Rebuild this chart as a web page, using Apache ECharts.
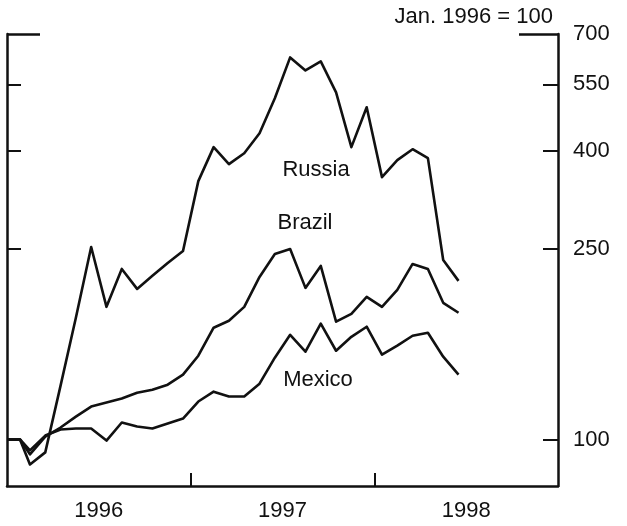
<!DOCTYPE html>
<html><head><meta charset="utf-8">
<script src="https://cdn.jsdelivr.net/npm/echarts@6/dist/echarts.min.js"></script>
<style>html,body{margin:0;padding:0;background:#fff}#c{width:627px;height:526px}</style>
</head><body><div id="c"></div>
<script>
// Months since Jan. 1996 (index level, Jan. 1996 = 100)
const months = [0, 0.85, 1.5, 2.5, 3.5, 4.5, 5.5, 6.5, 7.5, 8.5, 9.5, 10.5, 11.5, 12.5, 13.5, 14.5,
  15.5, 16.5, 17.5, 18.5, 19.5, 20.5, 21.5, 22.5, 23.5, 24.5, 25.5, 26.5, 27.5, 28.5, 29.5];
const russia = [100, 100, 88.7, 94.0, 129.5, 179.4, 251.9, 189.0, 226.7, 206.0, 219.3, 233.3, 247.1, 345.5, 406.7, 374.9,
  395.1, 434.7, 514.1, 625.6, 587.8, 613.7, 529.1, 406.7, 492.4, 352.2, 382.1, 402.7, 385.8, 236.7, 214.1];
const brazil = [100, 100, 93.1, 101.4, 105.9, 111.6, 117.1, 119.4, 121.7, 125.2, 127.0, 130.1, 136.5, 149.5, 171.0, 176.8,
  189.0, 218.2, 243.6, 249.5, 207.0, 230.0, 176.0, 182.8, 198.3, 189.0, 205.0, 232.2, 226.7, 192.7, 183.7];
const mexico = [100, 100, 94.9, 101.9, 104.9, 105.4, 105.4, 99.5, 108.5, 106.4, 105.4, 108.0, 110.6, 120.0, 125.8, 122.9,
  122.9, 130.7, 148.1, 165.3, 152.4, 174.3, 153.1, 163.7, 171.8, 150.2, 156.9, 164.5, 166.9, 148.8, 136.5];
const yearLabels = ['1996', '1997', '1998'];
const yearTickValues = [12, 24];
const yearLabelValues = [6, 18, 30];
const yTickValues = [100, 250, 400, 550, 700];
const yShortTicks = [100, 250, 400, 550];
const yLongTicks = [700];

const INK = '#111';
const FONT = '"Liberation Sans", Arial, Helvetica, sans-serif';
const pair = (xs, ys) => xs.map((x, i) => [x, ys[i]]);

const gridBox = { left: 7, right: 69, top: 34, bottom: 40, containLabel: false };
const yBase = {
  type: 'log', min: 80, max: 700, logBase: 10,
  splitLine: { show: false }, minorTick: { show: false }
};

const chart = echarts.init(document.getElementById('c'), null, { renderer: 'canvas' });
chart.setOption({
  backgroundColor: '#fff',
  animation: false,
  grid: [Object.assign({}, gridBox), Object.assign({}, gridBox)],
  xAxis: [{
    type: 'value', min: 0, max: 36, gridIndex: 0,
    axisLine: { show: true, onZero: false, lineStyle: { color: INK, width: 2.5 } },
    axisTick: { show: true, inside: true, length: 13, customValues: yearTickValues, lineStyle: { color: INK, width: 2 } },
    axisLabel: {
      customValues: yearLabelValues, margin: 14, fontSize: 22, color: INK, fontFamily: FONT,
      formatter: v => yearLabels[Math.round((v - 6) / 12)]
    },
    splitLine: { show: false }
  }, {
    type: 'value', min: 0, max: 36, gridIndex: 1, show: false,
    axisLine: { onZero: false }
  }],
  yAxis: [
    Object.assign({}, yBase, {
      gridIndex: 0, position: 'right',
      axisLine: { show: true, onZero: false, lineStyle: { color: INK, width: 2.5 } },
      axisTick: { show: true, inside: true, length: 15, customValues: yShortTicks, lineStyle: { color: INK, width: 2 } },
      axisLabel: { customValues: yTickValues, margin: 15, fontSize: 22, color: INK, fontFamily: FONT }
    }),
    Object.assign({}, yBase, {
      gridIndex: 0, position: 'left',
      axisLine: { show: true, onZero: false, lineStyle: { color: INK, width: 2.5 } },
      axisTick: { show: true, inside: true, length: 14, customValues: yShortTicks, lineStyle: { color: INK, width: 2 } },
      axisLabel: { show: false }
    }),
    Object.assign({}, yBase, {
      gridIndex: 1, position: 'right',
      axisLine: { show: false, onZero: false },
      axisTick: { show: true, inside: true, length: 39, customValues: yLongTicks, lineStyle: { color: INK, width: 2.5 } },
      axisLabel: { show: false }
    }),
    Object.assign({}, yBase, {
      gridIndex: 1, position: 'left',
      axisLine: { show: false, onZero: false },
      axisTick: { show: true, inside: true, length: 33, customValues: yLongTicks, lineStyle: { color: INK, width: 2.5 } },
      axisLabel: { show: false }
    })
  ],
  series: [
    { name: 'Russia', data: pair(months, russia) },
    { name: 'Brazil', data: pair(months, brazil) },
    { name: 'Mexico', data: pair(months, mexico) }
  ].map(s => Object.assign({
    type: 'line', xAxisIndex: 0, yAxisIndex: 0, symbol: 'none', smooth: false,
    lineStyle: { color: INK, width: 2.6, join: 'round' }
  }, s)),
  graphic: [
    { type: 'text', x: 553, y: 17, style: { text: 'Jan. 1996 = 100', font: '22px ' + FONT, fill: INK, align: 'right', verticalAlign: 'middle' } },
    { type: 'text', x: 316, y: 170, style: { text: 'Russia', font: '22px ' + FONT, fill: INK, align: 'center', verticalAlign: 'middle' } },
    { type: 'text', x: 305, y: 223, style: { text: 'Brazil', font: '22px ' + FONT, fill: INK, align: 'center', verticalAlign: 'middle' } },
    { type: 'text', x: 318, y: 380, style: { text: 'Mexico', font: '22px ' + FONT, fill: INK, align: 'center', verticalAlign: 'middle' } }
  ]
});
</script>
</body></html>
